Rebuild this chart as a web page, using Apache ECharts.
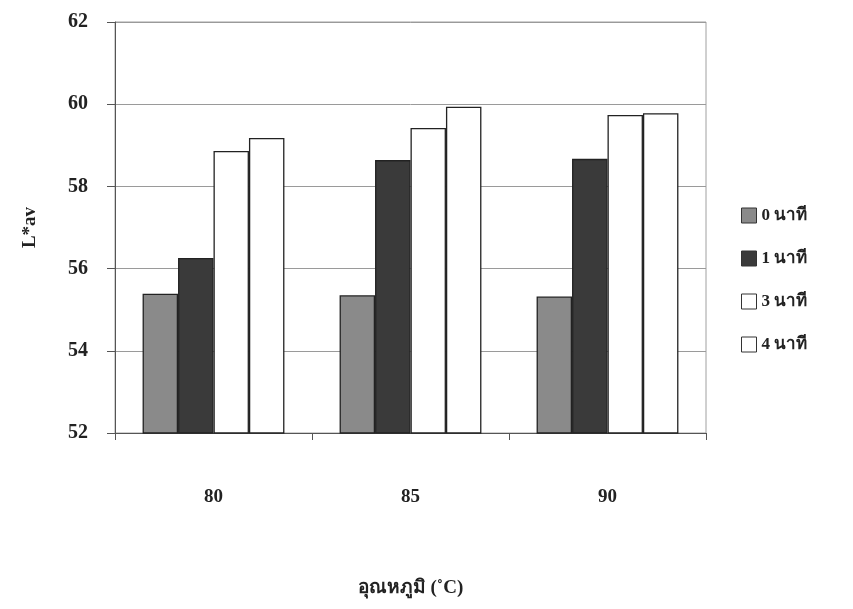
<!DOCTYPE html>
<html><head><meta charset="utf-8">
<script src="https://cdn.jsdelivr.net/npm/echarts@6/dist/echarts.min.js"></script>
<style>html,body{margin:0;padding:0;background:#fff}#c{width:853px;height:609px}</style>
</head><body><div id="c"></div>
<script>
const categories = ['80', '85', '90'];
const seriesNames = ['0 นาที', '1 นาที', '3 นาที', '4 นาที'];
const s0 = [55.39, 55.35, 55.32];
const s1 = [56.26, 58.64, 58.67];
const s3 = [58.86, 59.42, 59.74];
const s4 = [59.18, 59.94, 59.78];
const yTicks = [52, 54, 56, 58, 60, 62];

const font = '"Liberation Serif", "Times New Roman", serif';
const colors = ['#8a8a8a', '#3a3a3a', '#ffffff', '#ffffff'];
const data = [s0, s1, s3, s4];

const chart = echarts.init(document.getElementById('c'));
chart.setOption({
  animation: false,
  backgroundColor: '#fff',
  grid: { left: 115, top: 22, width: 591, height: 411, show: true, borderColor: '#a0a0a0', borderWidth: 1 },
  legend: {
    orient: 'vertical', left: 736, top: 202, itemGap: 26,
    itemWidth: 15, itemHeight: 15, icon: 'rect',
    textStyle: { fontFamily: font, fontWeight: 'bold', fontSize: 17, color: '#222' },
    data: seriesNames.map((n, i) => ({ name: n, itemStyle: { color: colors[i], borderColor: '#333', borderWidth: 1 } }))
  },
  xAxis: {
    type: 'category', data: categories,
    name: 'อุณหภูมิ (˚C)', nameLocation: 'middle', nameGap: 146,
    nameTextStyle: { fontFamily: font, fontWeight: 'bold', fontSize: 19, color: '#222' },
    axisLine: { lineStyle: { color: '#555' } },
    axisTick: { show: true, length: 7, lineStyle: { color: '#555' } },
    axisLabel: { margin: 55, fontFamily: font, fontWeight: 'bold', fontSize: 19, color: '#222' }
  },
  yAxis: {
    type: 'value', min: yTicks[0], max: yTicks[yTicks.length - 1], interval: 2,
    name: 'L*av', nameLocation: 'middle', nameGap: 75, nameRotate: 90,
    nameTextStyle: { fontFamily: font, fontWeight: 'bold', fontSize: 19, color: '#222' },
    axisLine: { show: true, lineStyle: { color: '#555' } },
    axisTick: { show: true, length: 8, lineStyle: { color: '#555' } },
    splitLine: { show: true, lineStyle: { color: '#9a9a9a', width: 1 } },
    axisLabel: { margin: 27, fontFamily: font, fontWeight: 'bold', fontSize: 20, color: '#222' }
  },
  series: seriesNames.map((n, i) => ({
    name: n, type: 'bar', data: data[i],
    barGap: '0%', barCategoryGap: '28%',
    itemStyle: { color: colors[i], borderColor: '#222', borderWidth: 1.3 }
  }))
});
</script></body></html>
